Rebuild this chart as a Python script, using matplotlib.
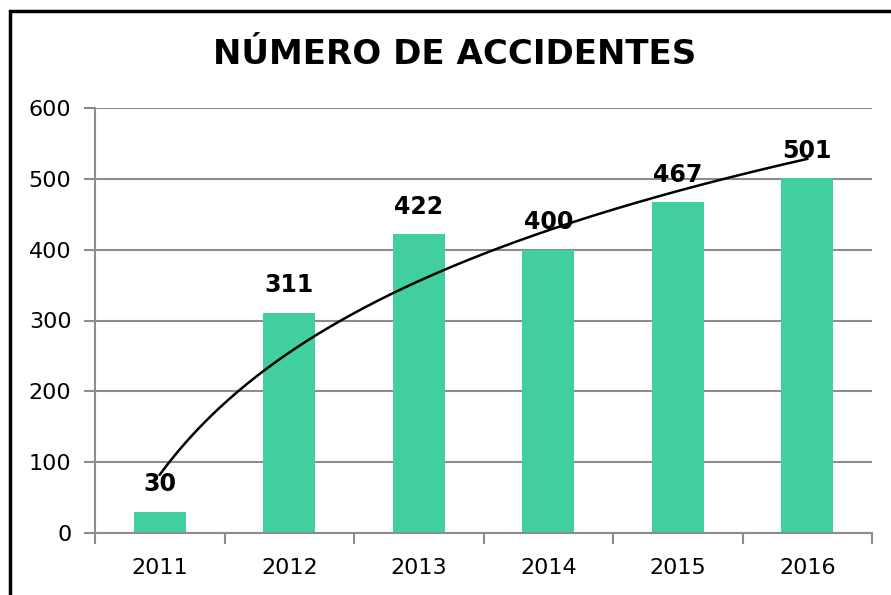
import matplotlib.pyplot as plt
import numpy as np
from matplotlib.patches import Rectangle

years = ["2011", "2012", "2013", "2014", "2015", "2016"]
accidents = [30, 311, 422, 400, 467, 501]

BAR_COLOR = "#41CFA2"
GRID_COLOR = "#8C8C8C"

fig = plt.figure(figsize=(8.91, 5.95), dpi=100)
W, H = 891, 595
ax = fig.add_axes([95 / W, 1 - 533 / H, (872 - 95) / W, (533 - 108) / H])

x = np.arange(1, len(years) + 1)
ax.bar(x, accidents, width=0.4, color=BAR_COLOR, zorder=2)

# logarithmic trendline (as in the spreadsheet)
a, b = np.polyfit(np.log(x), accidents, 1)
xs = np.linspace(1, len(years), 200)
ax.plot(xs, a * np.log(xs) + b, color="black", lw=1.8, zorder=3)

for xi, v in zip(x, accidents):
    ax.annotate(str(v), (xi, v), xytext=(0, 11), textcoords="offset points",
                ha="center", va="bottom", fontsize=17, fontweight="bold", zorder=4)

ax.set_xlim(0.5, len(years) + 0.5)
ax.set_ylim(0, 600)
ax.set_yticks(range(0, 601, 100))
ax.set_xticks(x)
ax.set_xticklabels(years)
ax.set_xticks(np.arange(0.5, len(years) + 1, 1), minor=True)
ax.tick_params(axis="x", which="major", length=0, pad=18, labelsize=16)
ax.tick_params(axis="x", which="minor", length=8, width=1.5, color=GRID_COLOR, direction="out")
ax.tick_params(axis="y", length=8, width=1.5, color=GRID_COLOR, pad=9, labelsize=16)
ax.yaxis.grid(True, color=GRID_COLOR, lw=1.5, zorder=0)
ax.set_axisbelow(True)
for s in ["top", "right"]:
    ax.spines[s].set_visible(False)
for s in ["left", "bottom"]:
    ax.spines[s].set_color(GRID_COLOR)
    ax.spines[s].set_linewidth(1.5)

fig.text(455 / W, 1 - 55 / H, "NÚMERO DE ACCIDENTES", ha="center", va="center",
         fontsize=24.5, fontweight="bold")

# chart frame (extends past the image on the right and bottom)
fig.patches.append(Rectangle((10 / W, -0.1), 1.1, 1 - 11 / H + 0.1, transform=fig.transFigure,
                             fill=False, edgecolor="black", lw=2.5))

fig.savefig("out.png", dpi=100)
